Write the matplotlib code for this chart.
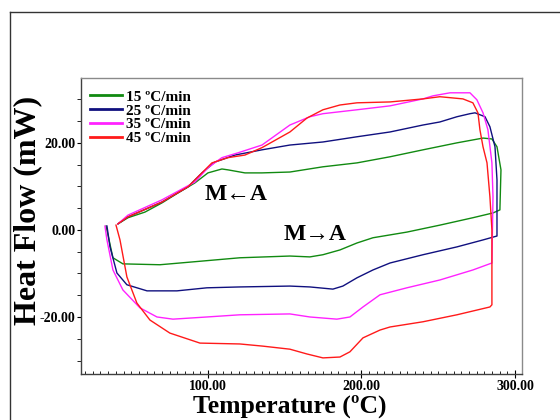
import matplotlib
matplotlib.use("Agg")
import matplotlib.pyplot as plt
from matplotlib.lines import Line2D
from matplotlib.ticker import MultipleLocator, FormatStrFormatter

plt.rcParams['font.family'] = ['Liberation Serif', 'DejaVu Serif']
plt.rcParams['font.weight'] = 'bold'

labels = ['15 \u00baC/min', '25 \u00baC/min', '35 \u00baC/min', '45 \u00baC/min']
colors = ['#118a11', '#10107f', '#ff22ff', '#ff1a1a']

# Temperature (°C) and heat flow (mW) along each heating -> cooling loop
t15 = [33.6, 38.1, 44.6, 68.7, 88.3, 120.8, 153.4, 166.4, 174.9, 186.0, 197.1, 207.5, 229.6,
       251.1, 272.6, 285.7, 290.2, 290.9, 288.3, 285.0, 279.2, 262.2, 240.1, 218.6, 197.1,
       174.9, 153.4, 135.2, 124.1, 113.0, 109.1, 100.0, 91.5, 80.5, 70.0, 59.0, 47.9, 41.4]
h15 = [0.9, -6.4, -7.8, -8.0, -7.4, -6.4, -6.0, -6.2, -5.7, -4.6, -3.0, -1.8, -0.5,
       1.1, 2.8, 3.9, 4.6, 13.8, 19.1, 20.9, 21.1, 20.0, 18.4, 16.8, 15.4,
       14.5, 13.3, 13.1, 13.1, 13.8, 14.0, 13.1, 10.8, 8.5, 6.2, 4.1, 2.8, 1.4]

t25 = [34.2, 36.2, 40.7, 47.2, 60.3, 79.8, 99.3, 120.8, 153.4, 166.4, 181.4, 187.9, 197.1,
       207.5, 218.6, 240.1, 262.2, 279.2, 288.3,
       288.3, 287.0, 283.7, 280.5, 274.0, 270.7, 262.2, 251.1, 240.1, 218.6, 197.1, 174.9,
       153.4, 135.2, 117.6, 104.6, 96.1, 87.0, 70.0, 47.9, 41.4]
h25 = [0.9, -3.9, -9.9, -12.6, -14.0, -14.0, -13.3, -13.1, -12.9, -13.1, -13.6, -12.9, -11.0,
       -9.2, -7.6, -5.7, -3.9, -2.3, -1.4,
       11.5, 19.1, 23.7, 26.0, 26.9, 26.7, 26.0, 24.8, 24.1, 22.5, 21.4, 20.2,
       19.5, 18.4, 17.2, 15.6, 13.1, 9.9, 6.4, 3.0, 1.4]

t35 = [32.9, 34.2, 38.1, 44.6, 55.7, 66.8, 77.2, 99.3, 120.8, 153.4, 166.4, 184.0, 192.5,
       201.0, 212.1, 229.6, 251.1, 272.6, 285.0,
       285.7, 285.0, 282.4, 279.2, 275.2, 270.7, 257.7, 246.6, 240.1, 218.6, 197.1, 174.9,
       166.4, 153.4, 135.2, 119.5, 109.1, 100.0, 91.5, 70.0, 47.9, 41.4]
h35 = [0.9, -2.3, -9.2, -13.8, -17.9, -20.0, -20.5, -20.0, -19.5, -19.3, -20.0, -20.5, -20.0,
       -17.7, -14.9, -13.3, -11.5, -9.2, -7.6,
       7.6, 15.4, 23.0, 26.9, 29.9, 31.5, 31.5, 30.8, 30.1, 28.5, 27.6, 26.7,
       26.0, 24.1, 19.5, 17.7, 16.6, 14.3, 11.0, 6.9, 3.4, 1.4]

t45 = [40.1, 42.7, 47.2, 53.7, 62.2, 75.2, 94.8, 120.8, 135.8, 153.4, 164.5, 174.9, 186.0,
       192.5, 201.0, 212.1, 218.6, 240.1, 262.2, 283.7, 285.0,
       285.0, 283.7, 281.8, 279.2, 277.2, 275.9, 272.6, 266.1, 251.1, 240.1, 218.6, 197.1,
       186.0, 174.9, 164.5, 153.4, 135.2, 124.1, 113.0, 102.6, 96.1, 87.0, 70.0, 47.9, 41.4]
h45 = [1.1, -2.3, -10.8, -16.8, -20.7, -23.7, -26.0, -26.2, -26.7, -27.4, -28.5, -29.4, -29.2,
       -28.0, -24.8, -23.0, -22.3, -21.1, -19.5, -17.7, -17.2,
       0.0, 7.6, 15.4, 19.1, 23.0, 26.9, 29.2, 30.1, 30.6, 30.1, 29.4, 29.2,
       28.7, 27.6, 25.7, 22.5, 18.9, 17.2, 16.6, 15.4, 13.1, 9.9, 6.4, 3.0, 1.4]

temps = [t15, t25, t35, t45]
flows = [h15, h25, h35, h45]

fig = plt.figure(figsize=(5.6, 4.2), dpi=100)
ax = fig.add_axes([81/560, 1-374/420, (522-81)/560, (374-78)/420])

for t, h, c, lab in zip(temps, flows, colors, labels):
    ax.plot(t, h, color=c, lw=1.0, label=lab)

ax.set_xlim(17.3, 304.6)
ax.set_ylim(-33.1, 34.9)

ax.xaxis.set_major_locator(MultipleLocator(100))
ax.xaxis.set_minor_locator(MultipleLocator(5))
ax.yaxis.set_major_locator(MultipleLocator(20))
ax.yaxis.set_minor_locator(MultipleLocator(5))
ax.xaxis.set_major_formatter(FormatStrFormatter('%.2f'))
ax.yaxis.set_major_formatter(FormatStrFormatter('%.2f'))
ax.tick_params(axis='x', which='major', direction='inout', length=6, width=0.8, pad=1.5, labelsize=10)
ax.tick_params(axis='x', which='minor', direction='in', length=2, width=0.6)
ax.tick_params(axis='y', which='major', direction='out', length=3, width=0.8, pad=1, labelsize=10)
ax.tick_params(axis='y', which='minor', direction='out', length=3, width=0.6)
for lbl in ax.get_xticklabels() + ax.get_yticklabels():
    lbl.set_fontweight('bold')

for s in ['left', 'bottom']:
    ax.spines[s].set_color('#404040')
for s in ['top', 'right']:
    ax.spines[s].set_color('#8a8a8a')
for s in ax.spines.values():
    s.set_linewidth(1.0)

ax.set_xlabel('Temperature (\u00baC)', fontsize=18.5, fontweight='bold')
ax.xaxis.set_label_coords((290-81)/441, -(395-374)/296)
fig.text(28/560, 1-210/420, 'Heat Flow (mW)', rotation=90, fontsize=23, fontweight='bold',
         ha='center', va='center')

ax.text(98, 8.1, 'M\u2190A', fontsize=17, fontweight='bold', ha='left', va='center')
ax.text(149, -1.0, 'M\u2192A', fontsize=17, fontweight='bold', ha='left', va='center')

leg = ax.legend(loc='upper left', bbox_to_anchor=(0.02, 0.959), frameon=False,
                prop={'family': 'Liberation Serif', 'weight': 'bold', 'size': 11},
                handlelength=2.1, handletextpad=0.25, labelspacing=0.0, borderpad=0,
                borderaxespad=0)
for lh in leg.legend_handles:
    lh.set_linewidth(2.0)

fig.add_artist(Line2D([10/560, 10/560], [0, 1-12/420], color='#333333', lw=1.0))
fig.add_artist(Line2D([10/560, 1], [1-12/420, 1-12/420], color='#333333', lw=1.0))

fig.savefig('out.png', dpi=100)
